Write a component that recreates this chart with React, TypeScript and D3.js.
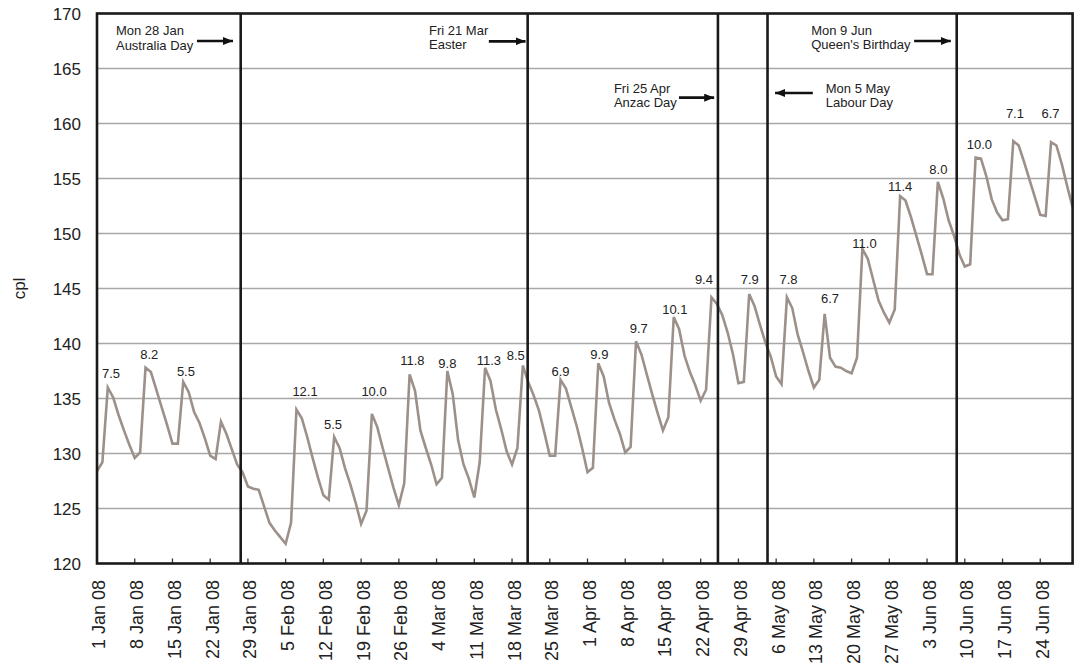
import React from "react";
import * as d3 from "d3";

// Daily retail price (cpl), 1 Jan 2008 (day 0) .. 30 Jun 2008 (day 181)
const prices: number[] = [
  128.4, 129.2, 136.0, 135.1, 133.5, 132.1, 130.8, 129.6, 130.1, 137.8,
  137.4, 135.8, 134.2, 132.6, 130.9, 130.9, 136.5, 135.6, 133.8, 132.8,
  131.4, 129.8, 129.5, 132.9, 131.8, 130.4, 129.0, 128.3, 127.0, 126.8,
  126.7, 125.2, 123.7, 123.0, 122.4, 121.8, 123.7, 134.0, 133.2, 131.5,
  129.6, 127.8, 126.2, 125.8, 131.5, 130.5, 128.7, 127.2, 125.5, 123.6,
  124.8, 133.6, 132.4, 130.5, 128.7, 126.9, 125.3, 127.3, 137.2, 135.7,
  132.1, 130.5, 129.0, 127.2, 127.8, 137.5, 135.4, 131.2, 129.0, 127.7,
  126.0, 129.2, 137.8, 136.6, 134.0, 132.2, 130.2, 129.0, 130.5, 138.0,
  136.5, 135.3, 133.9, 131.9, 129.8, 129.8, 136.7, 135.9, 134.2, 132.5,
  130.5, 128.3, 128.7, 138.2, 137.0, 134.6, 133.1, 131.8, 130.1, 130.6,
  140.2, 139.0, 137.2, 135.4, 133.7, 132.1, 133.3, 142.4, 141.3, 138.9,
  137.4, 136.2, 134.8, 135.8, 144.2, 143.6, 142.6, 141.0, 139.0, 136.4,
  136.5, 144.5, 143.4, 141.7, 140.1, 138.8, 137.0, 136.3, 144.2, 143.2,
  140.8, 139.2, 137.5, 136.0, 136.7, 142.7, 138.7, 137.9, 137.8, 137.5,
  137.3, 138.7, 148.6, 147.7, 145.8, 143.9, 142.8, 141.9, 143.1, 153.4,
  153.0, 151.5, 149.8, 148.1, 146.3, 146.3, 154.7, 153.2, 151.2, 149.8,
  148.1, 147.0, 147.2, 156.9, 156.8, 155.2, 153.1, 151.9, 151.2, 151.3,
  158.4, 158.0, 156.5, 154.9, 153.3, 151.7, 151.6, 158.3, 158.0, 156.3,
  154.3, 152.4,
];

const weekLabels: string[] = [
  "1 Jan 08", "8 Jan 08", "15 Jan 08", "22 Jan 08", "29 Jan 08", "5 Feb 08",
  "12 Feb 08", "19 Feb 08", "26 Feb 08", "4 Mar 08", "11 Mar 08", "18 Mar 08",
  "25 Mar 08", "1 Apr 08", "8 Apr 08", "15 Apr 08", "22 Apr 08", "29 Apr 08",
  "6 May 08", "13 May 08", "20 May 08", "27 May 08", "3 Jun 08", "10 Jun 08",
  "17 Jun 08", "24 Jun 08",
];

const yTicks: number[] = [120, 125, 130, 135, 140, 145, 150, 155, 160, 165, 170];

// Weekly price-cycle rise labels: text, day position, level (cpl)
const riseTexts: string[] = [
  "7.5", "8.2", "5.5", "12.1", "5.5", "10.0", "11.8", "9.8", "11.3", "8.5",
  "6.9", "9.9", "9.7", "10.1", "9.4", "7.9", "7.8", "6.7", "11.0", "11.4",
  "8.0", "10.0", "7.1", "6.7",
];
const riseDays: number[] = [
  2.6, 9.7, 16.5, 38.6, 43.8, 51.4, 58.5, 65.0, 72.7, 77.7,
  86.0, 93.2, 100.5, 107.2, 112.6, 121.1, 128.3, 136.0, 142.4, 149.0,
  156.1, 163.7, 170.3, 176.9,
];
const riseLevels: number[] = [
  136.9, 138.6, 137.05, 135.25, 132.2, 135.25, 138.07, 137.75, 138.07, 138.5,
  137.05, 138.6, 140.93, 142.68, 145.4, 145.4, 145.4, 143.65, 148.7, 153.86,
  155.4, 157.68, 160.53, 160.53,
];

// Public holidays (vertical lines), in day positions
const holidayDays: number[] = [26.66, 79.9, 115.2, 124.4, 159.5];
const holidayLine1: string[] = ["Mon 28 Jan", "Fri 21 Mar", "Fri 25 Apr", "Mon 5 May", "Mon 9 Jun"];
const holidayLine2: string[] = ["Australia Day", "Easter", "Anzac Day", "Labour Day", "Queen's Birthday"];
// annotation text anchor (day, cpl) and arrow (from day -> to day at cpl)
const noteTextDay: number[] = [3.52, 61.6, 95.9, 135.2, 132.5];
const noteTextLevel: number[] = [168.02, 168.05, 162.8, 162.8, 168.05];
const arrowFrom: number[] = [18.55, 72.7, 107.97, 132.8, 151.6];
const arrowTo: number[] = [25.23, 79.5, 114.5, 125.8, 158.4];
const arrowLevel: number[] = [167.5, 167.47, 162.35, 162.77, 167.5];

const W = 1077;
const H = 666;
const left = 97;
const right = 1072.6;
const top = 13.5;
const bottom = 563.5;
const FONT = "'Liberation Sans', Arial, Helvetica, sans-serif";

export default function App() {
  const x = d3.scaleLinear().domain([0, prices.length - 1]).range([left, right]);
  const y = d3.scaleLinear().domain([120, 170]).range([bottom, top]);

  const line = d3
    .line<number>()
    .x((_, i) => x(i))
    .y((d) => y(d));

  const tickDays = weekLabels.map((_, i) => i * 7);

  return (
    <div style={{ position: "fixed", left: 0, top: 0 }}>
      <svg width={W} height={H} viewBox={`0 0 ${W} ${H}`} style={{ display: "block", background: "#fff" }}>
        <defs>
          <marker id="ah" viewBox="0 0 10 8" refX="10" refY="4" markerWidth="10" markerHeight="8" markerUnits="userSpaceOnUse" orient="auto">
            <path d="M0,0 L10,4 L0,8 z" fill="#111" />
          </marker>
        </defs>
        {/* gridlines */}
        {yTicks.slice(1, -1).map((t) => (
          <line key={t} x1={left} x2={right} y1={y(t)} y2={y(t)} stroke="#a8a8a8" strokeWidth={1.4} />
        ))}
        {/* y labels */}
        {yTicks.map((t) => (
          <text key={t} x={81} y={y(t)} dy="0.36em" textAnchor="end" fontFamily={FONT} fontSize={17} fill="#222">
            {t}
          </text>
        ))}
        <text transform={`translate(25,${(top + bottom) / 2}) rotate(-90)`} textAnchor="middle" fontFamily={FONT} fontSize={17} fill="#222">
          cpl
        </text>
        {/* x ticks */}
        {tickDays.map((d) => (
          <line key={d} x1={x(d)} x2={x(d)} y1={bottom} y2={bottom - 5} stroke="#333" strokeWidth={1.3} />
        ))}
        {tickDays.map((d, i) => (
          <text
            key={"l" + d}
            transform={`translate(${x(d) + 2},580) rotate(-90)`}
            dy="0.36em"
            textAnchor="end"
            fontFamily={FONT}
            fontSize={18}
            fill="#222"
          >
            {weekLabels[i]}
          </text>
        ))}
        {/* price line */}
        <path d={line(prices) || ""} fill="none" stroke="#9c918a" strokeWidth={2.6} strokeLinejoin="miter" />
        {/* holiday lines */}
        {holidayDays.map((d) => (
          <line key={d} x1={x(d)} x2={x(d)} y1={top} y2={bottom} stroke="#1a1a1a" strokeWidth={2.6} />
        ))}
        {/* rise labels */}
        {riseTexts.map((t, i) => (
          <text key={"r" + i} x={x(riseDays[i])} y={y(riseLevels[i])} textAnchor="middle" fontFamily={FONT} fontSize={13} fill="#222">
            {t}
          </text>
        ))}
        {/* annotations */}
        {holidayDays.map((_, i) => (
          <g key={"n" + i}>
            <text x={x(noteTextDay[i])} y={y(noteTextLevel[i])} fontFamily={FONT} fontSize={13} fill="#222">
              <tspan x={x(noteTextDay[i])}>{holidayLine1[i]}</tspan>
              <tspan x={x(noteTextDay[i])} dy={14.4}>{holidayLine2[i]}</tspan>
            </text>
            <line
              x1={x(arrowFrom[i])}
              x2={x(arrowTo[i])}
              y1={y(arrowLevel[i])}
              y2={y(arrowLevel[i])}
              stroke="#111"
              strokeWidth={2.6}
              markerEnd="url(#ah)"
            />
          </g>
        ))}
        {/* frame */}
        <rect x={left} y={top} width={right - left} height={bottom - top} fill="none" stroke="#1a1a1a" strokeWidth={2.6} />
      </svg>
    </div>
  );
}
